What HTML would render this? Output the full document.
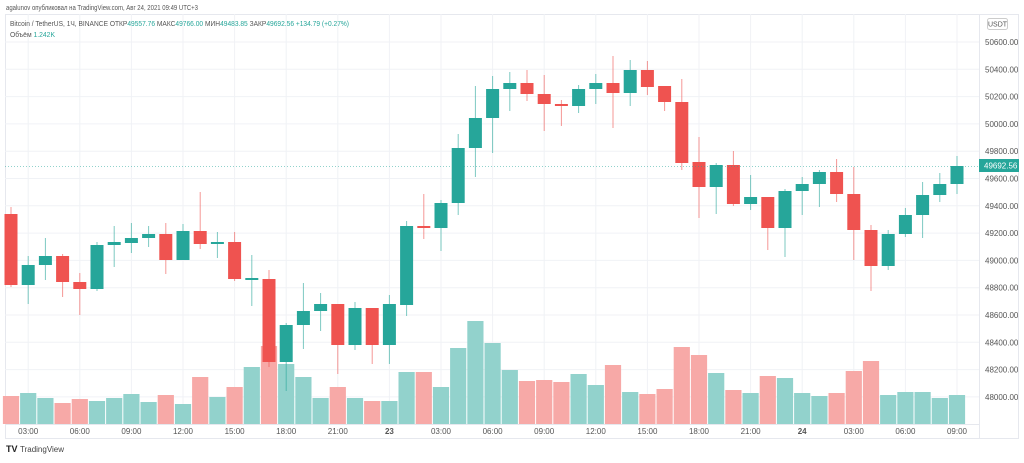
<!DOCTYPE html>
<html><head><meta charset="utf-8"><style>
body{margin:0;width:1024px;height:458px;background:#fff;overflow:hidden;font-family:"Liberation Sans",sans-serif}
</style></head><body>
<svg id="s" width="1024" height="458" xmlns="http://www.w3.org/2000/svg" font-family="Liberation Sans, sans-serif">
<text x="6" y="10" font-size="7" fill="#555" textLength="192" lengthAdjust="spacingAndGlyphs">agalunov опубликовал на TradingView.com, Авг 24, 2021 09:49 UTC+3</text>
<rect x="5.5" y="14.5" width="1013" height="424" fill="none" stroke="#e6e8ee"/>
<line x1="979.5" y1="14" x2="979.5" y2="438" stroke="#e6e8ee"/>
<line x1="5" y1="424.5" x2="979" y2="424.5" stroke="#e6e8ee"/>
<g id="grid"></g>
<g id="vol"></g>
<g id="cnd"></g>
<line x1="5" y1="166.5" x2="979" y2="166.5" stroke="#26a69a" stroke-dasharray="1,2" opacity="0.5"/>
<text x="10" y="26" font-size="7" fill="#555" textLength="339" lengthAdjust="spacingAndGlyphs">Bitcoin / TetherUS, 1Ч, BINANCE  ОТКР<tspan fill="#26a69a">49557.76</tspan>  МАКС<tspan fill="#26a69a">49766.00</tspan>  МИН<tspan fill="#26a69a">49483.85</tspan>  ЗАКР<tspan fill="#26a69a">49692.56  +134.79 (+0.27%)</tspan></text>
<text x="10" y="37" font-size="7" fill="#555" textLength="45" lengthAdjust="spacingAndGlyphs">Объём  <tspan fill="#26a69a">1.242K</tspan></text>
<rect x="987.5" y="18.5" width="20" height="11" rx="2" fill="#fff" stroke="#ccc"/>
<text x="997.5" y="26.5" font-size="7" fill="#555" text-anchor="middle">USDT</text>
<g id="ax" font-size="8" fill="#555"></g>
<rect x="979" y="159" width="40" height="13" fill="#26a69a"/>
<text x="984" y="168.5" font-size="8" fill="#fff">49692.56</text>
<text x="6" y="452" font-size="9" font-weight="bold" fill="#222">TV</text>
<text x="20" y="452" font-size="8" fill="#444">TradingView</text>
</svg>
<script>
var NS="http://www.w3.org/2000/svg";
function el(p,t,a,txt){var e=document.createElementNS(NS,t);for(var k in a)e.setAttribute(k,a[k]);if(txt)e.textContent=txt;document.getElementById(p).appendChild(e);}
for(var i=0;i<14;i++){var p=50600-200*i;var y=42+i*27.3;
el("grid","line",{x1:5,x2:979,y1:y,y2:y,stroke:"#f0f2f6"});
el("ax","text",{x:985,y:y+3},p.toFixed(2));}
var tl=[[1,"03:00"],[4,"06:00"],[7,"09:00"],[10,"12:00"],[13,"15:00"],[16,"18:00"],[19,"21:00"],[22,"23"],[25,"03:00"],[28,"06:00"],[31,"09:00"],[34,"12:00"],[37,"15:00"],[40,"18:00"],[43,"21:00"],[46,"24"],[49,"03:00"],[52,"06:00"],[55,"09:00"]];
tl.forEach(function(t){var x=11+17.2*t[0];el("grid","line",{x1:x,x2:x,y1:14,y2:424,stroke:"#f0f2f6"});
el("ax","text",{x:x,y:434,"text-anchor":"middle","font-weight":(t[1]=="23"||t[1]=="24")?"bold":"normal"},t[1]);});
var C=[[214,285,207,287,0],[265,285,256,304,1],[256,265,238,280,1],[256,282,254,297,0],[282,289,273,315,0],[245,289,242,291,1],[242,245,226,267,1],[238,243,223,253,1],[234,238,226,247,1],[234,260,223,274,0],[231,260,224,260,1],[231,244,192,249,0],[242,244,232,258,1],[242,279,232,281,0],[278,279,255,306,1],[279,362,270,367,0],[325,362,323,391,1],[311,325,283,349,1],[304,311,293,331,1],[304,345,304,374,0],[308,345,302,350,1],[308,345,308,364,0],[304,345,295,364,1],[226,305,221,316,1],[226,228,194,239,0],[203,228,200,251,1],[148,203,134,215,1],[118,148,86,177,1],[89,118,76,153,1],[83,89,72,111,1],[83,94,70,101,0],[94,104,75,131,0],[104,106,100,126,0],[89,106,85,113,1],[83,89,74,104,1],[83,93,56,128,0],[70,93,60,106,1],[70,87,61,95,0],[86,102,86,111,0],[102,163,79,170,0],[162,187,137,218,0],[165,187,163,214,1],[165,204,151,206,0],[197,204,175,210,1],[197,228,197,250,0],[191,228,189,257,1],[184,191,177,215,1],[172,184,170,207,1],[172,194,159,202,0],[194,230,167,260,0],[230,266,225,291,0],[234,266,230,270,1],[215,234,208,237,1],[195,215,182,238,1],[184,195,173,202,1],[166,184,156,194,1]];
var V=[396,393,398,403,399,401,398,394,402,395,404,377,397,387,367,346,364,377,398,387,398,401,401,372,372,387,348,321,343,370,381,380,382,374,385,365,392,394,389,347,355,373,390,393,376,378,393,396,393,371,361,395,392,392,398,395];
C.forEach(function(c,i){var x=11+17.2*i;var col=c[4]?"#26a69a":"#ef5350";
el("vol","rect",{x:x-8.1,y:V[i],width:16.2,height:424-V[i],fill:c[4]?"#92d2cc":"#f7a9a7"});
el("cnd","line",{x1:x,x2:x,y1:c[2],y2:c[3],stroke:col,"stroke-width":1,opacity:0.6});
el("cnd","rect",{x:x-6.5,y:c[0],width:13,height:Math.max(2,c[1]-c[0]),fill:col});});
</script>
</body></html>
